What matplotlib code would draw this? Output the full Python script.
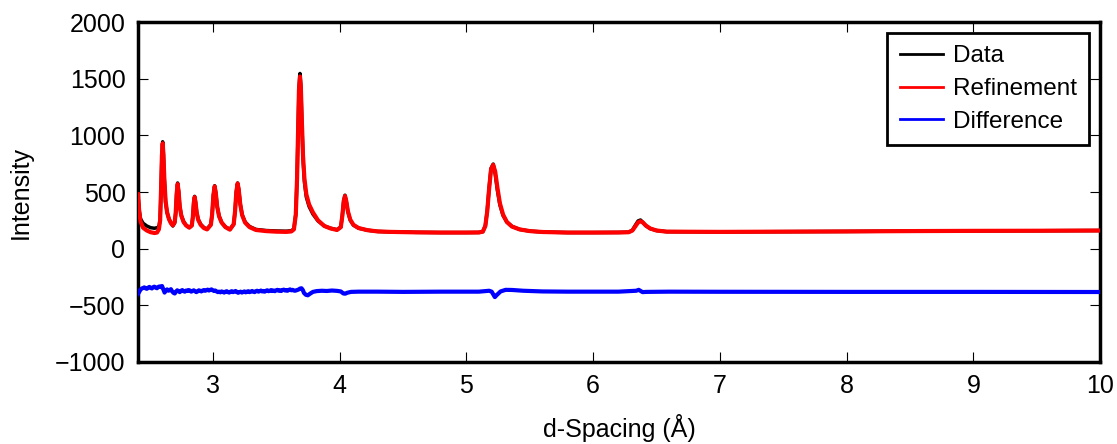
import matplotlib
matplotlib.use("Agg")
import matplotlib.pyplot as plt

plt.rcParams['font.family'] = ['Liberation Sans', 'DejaVu Sans']

# d-spacing grid (Å) for the observed / calculated patterns
d_spacing = [2.41, 2.42, 2.43, 2.45, 2.48, 2.51, 2.54, 2.56, 2.575, 2.585,
             2.593, 2.599, 2.605, 2.611, 2.618, 2.628, 2.64, 2.655, 2.67, 2.685,
             2.70, 2.708, 2.715, 2.723, 2.731, 2.74, 2.752, 2.77, 2.79, 2.815,
             2.835, 2.843, 2.850, 2.857, 2.864, 2.873, 2.885, 2.905, 2.93, 2.955,
             2.985, 2.995, 3.005, 3.015, 3.024, 3.035, 3.05, 3.07, 3.10, 3.135,
             3.165, 3.176, 3.186, 3.196, 3.205, 3.217, 3.232, 3.255, 3.29, 3.34,
             3.42, 3.50, 3.58, 3.62, 3.64, 3.655, 3.665, 3.673, 3.68, 3.688,
             3.695, 3.703, 3.712, 3.723, 3.738, 3.76, 3.79, 3.83, 3.88, 3.93,
             3.98, 4.01, 4.022, 4.033, 4.043, 4.053, 4.066, 4.085, 4.11, 4.15,
             4.22, 4.30, 4.40, 4.50, 4.60, 4.80, 5.00, 5.10, 5.13, 5.15,
             5.165, 5.18, 5.195, 5.212, 5.228, 5.245, 5.265, 5.29, 5.32, 5.36,
             5.42, 5.50, 5.60, 5.80, 6.00, 6.20, 6.28, 6.31, 6.335, 6.355,
             6.374, 6.393, 6.415, 6.45, 6.50, 6.58, 7.00, 7.50, 8.00, 8.50,
             9.00, 9.50, 10.0]

refinement = [480, 330, 240, 185, 160, 145, 138, 142, 170, 250,
              550, 820, 930, 830, 620, 420, 320, 260, 225, 205,
              235, 320, 480, 570, 500, 370, 290, 235, 205, 185,
              205, 280, 400, 455, 410, 320, 255, 210, 182, 170,
              210, 300, 470, 550, 490, 370, 285, 230, 190, 168,
              215, 330, 500, 575, 520, 390, 295, 230, 190, 165,
              155, 150, 148, 152, 170, 300, 620, 1050, 1400, 1520,
              1420, 1120, 820, 620, 480, 390, 320, 250, 200, 178,
              165, 190, 290, 420, 465, 420, 330, 255, 210, 182,
              163, 152, 148, 146, 144, 142, 142, 143, 150, 200,
              330, 530, 700, 740, 680, 540, 400, 300, 235, 195,
              170, 155, 147, 142, 142, 143, 145, 160, 200, 232,
              242, 230, 205, 178, 160, 150, 148, 150, 152, 155,
              157, 158, 160]

data = [470, 340, 265, 225, 200, 185, 180, 185, 190, 260,
        560, 835, 944, 835, 610, 410, 318, 262, 228, 200,
        228, 315, 482, 580, 505, 372, 295, 240, 206, 187,
        205, 282, 405, 462, 415, 325, 260, 215, 186, 173,
        214, 302, 474, 556, 495, 372, 288, 232, 192, 170,
        215, 330, 505, 580, 525, 395, 300, 236, 196, 170,
        160, 156, 154, 158, 175, 305, 630, 1060, 1420, 1547,
        1440, 1110, 795, 590, 455, 372, 305, 245, 200, 180,
        167, 190, 292, 424, 472, 420, 325, 250, 207, 181,
        163, 152, 148, 148, 144, 142, 142, 143, 150, 202,
        336, 540, 710, 747, 660, 515, 385, 292, 235, 197,
        170, 155, 147, 142, 142, 143, 145, 163, 210, 245,
        253, 232, 203, 177, 160, 150, 148, 150, 152, 155,
        157, 158, 160]

# difference curve (offset below the pattern)
diff_d = [2.41, 2.42, 2.43, 2.44, 2.45, 2.46, 2.47, 2.48, 2.49, 2.50,
          2.51, 2.52, 2.53, 2.54, 2.55, 2.56, 2.57, 2.58, 2.59, 2.60,
          2.61, 2.62, 2.63, 2.64, 2.65, 2.66, 2.67, 2.68, 2.69, 2.70,
          2.71, 2.72, 2.73, 2.74, 2.75, 2.76, 2.77, 2.78, 2.79, 2.80,
          2.81, 2.82, 2.83, 2.84, 2.85, 2.86, 2.87, 2.88, 2.89, 2.90,
          2.91, 2.92, 2.93, 2.94, 2.95, 2.96, 2.97, 2.98, 2.99, 3.00,
          3.01, 3.02, 3.03, 3.04, 3.05, 3.06, 3.07, 3.08, 3.09, 3.10,
          3.11, 3.12, 3.13, 3.14, 3.15, 3.16, 3.17, 3.18, 3.19, 3.20,
          3.21, 3.22, 3.23, 3.24, 3.25, 3.26, 3.27, 3.28, 3.29, 3.30,
          3.31, 3.32, 3.33, 3.34, 3.35, 3.36, 3.37, 3.38, 3.39, 3.40,
          3.41, 3.42, 3.43, 3.44, 3.45, 3.46, 3.47, 3.48, 3.49, 3.50,
          3.51, 3.52, 3.53, 3.54, 3.55, 3.56, 3.57, 3.58, 3.59, 3.60,
          3.61, 3.62, 3.63, 3.64, 3.65, 3.66, 3.675, 3.69, 3.70, 3.71,
          3.72, 3.735, 3.75, 3.77, 3.79, 3.82, 3.86, 3.90, 3.94, 3.98,
          4.01, 4.03, 4.045, 4.06, 4.09, 4.15, 4.30, 4.50, 4.80, 5.00,
          5.10, 5.18, 5.20, 5.225, 5.24, 5.27, 5.31, 5.36, 5.45, 5.60,
          5.80, 6.20, 6.34, 6.36, 6.39, 6.42, 6.60, 7.0, 8.0, 9.0,
          10.0]

difference = [-400, -382, -362, -352, -348, -342, -350, -355, -345, -338,
              -346, -352, -340, -336, -345, -350, -338, -334, -340, -330,
              -358, -388, -368, -360, -372, -366, -358, -378, -390, -396,
              -380, -368, -376, -384, -372, -366, -376, -380, -370, -374,
              -366, -370, -380, -374, -368, -376, -384, -378, -368, -372,
              -378, -370, -366, -372, -368, -362, -370, -364, -360, -368,
              -374, -370, -378, -384, -380, -386, -378, -382, -388, -380,
              -376, -384, -388, -380, -376, -384, -380, -374, -382, -390,
              -384, -380, -388, -382, -378, -386, -380, -376, -384, -380,
              -374, -380, -384, -376, -372, -380, -376, -370, -378, -374,
              -380, -372, -368, -376, -372, -366, -374, -370, -376, -368,
              -364, -372, -368, -374, -366, -362, -370, -366, -372, -364,
              -360, -368, -364, -370, -372, -368, -362, -352, -350, -365,
              -392, -408, -412, -396, -382, -375, -372, -374, -370, -373,
              -378, -396, -398, -390, -382, -380, -380, -382, -380, -380,
              -380, -372, -380, -428, -410, -378, -364, -365, -372, -378,
              -380, -380, -372, -364, -384, -382, -380, -381, -382, -382,
              -383]

x_ticks = [3, 4, 5, 6, 7, 8, 9, 10]
y_ticks = [-1000, -500, 0, 500, 1000, 1500, 2000]

FS = 18
LFS = 17.5

fig = plt.figure(figsize=(11.17, 4.44), dpi=100)
ax = fig.add_axes([0.1235, 0.185, 0.8615, 0.765])

ax.plot(d_spacing, data, color='black', lw=2.5, label='Data', zorder=2)
ax.plot(d_spacing, refinement, color='red', lw=3, label='Refinement', zorder=3)
ax.plot(diff_d, difference, color='blue', lw=3, label='Difference', zorder=4)

ax.set_xlim(2.41, 10)
ax.set_ylim(-1000, 2000)
ax.set_xticks(x_ticks)
ax.set_yticks(y_ticks)
ax.tick_params(direction='in', top=True, right=True, length=7, width=0.8,
               labelsize=FS, pad=9)
for s in ax.spines.values():
    s.set_linewidth(2.5)

ax.set_xlabel('d-Spacing (Å)', fontsize=FS, labelpad=11)
ax.set_ylabel('Intensity', fontsize=FS, labelpad=16)

leg = ax.legend(loc='upper right', bbox_to_anchor=(0.9886, 0.9676), borderaxespad=0,
                fontsize=LFS, fancybox=False, framealpha=1, edgecolor='black',
                handlelength=1.8, handletextpad=0.4, labelspacing=0.44,
                borderpad=0.5)
leg.get_frame().set_linewidth(2)
for line in leg.get_lines():
    line.set_linewidth(2)

fig.savefig('out.png', dpi=100)
